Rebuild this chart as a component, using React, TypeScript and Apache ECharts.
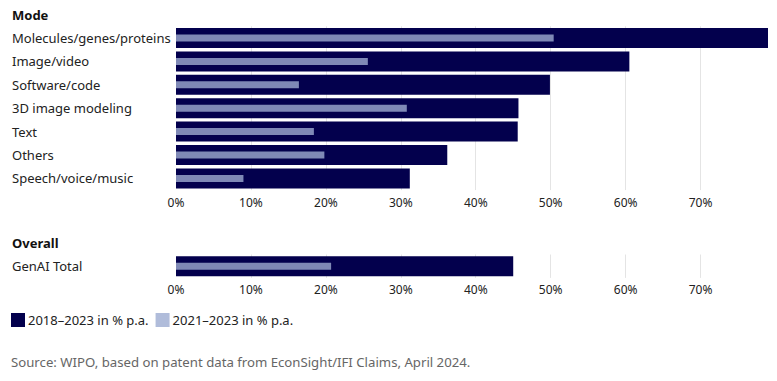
import React, { useEffect, useRef } from "react";
import * as echarts from "echarts";

const modeCategories = [
  "Molecules/genes/proteins",
  "Image/video",
  "Software/code",
  "3D image modeling",
  "Text",
  "Others",
  "Speech/voice/music",
];
const mode2018_2023 = [79, 60.5, 49.9, 45.7, 45.6, 36.2, 31.2];
const mode2021_2023 = [50.4, 25.6, 16.4, 30.8, 18.4, 19.8, 9.0];

const overallCategories = ["GenAI Total"];
const overall2018_2023 = [45.0];
const overall2021_2023 = [20.7];

const gridTicks = [10, 20, 30, 40, 50, 60, 70];

const seriesNameA = "2018–2023 in % p.a.";
const seriesNameB = "2021–2023 in % p.a.";

const DARK = "#03004d";
const LIGHT_BAR = "#7f89b6";
const LIGHT_LEGEND = "#b0bcda";
const FONT = "Noto Sans";

export default function App() {
  const ref = useRef<HTMLDivElement>(null);
  useEffect(() => {
    if (!ref.current) return;
    const chart = echarts.init(ref.current, undefined, { renderer: "svg" });

    const xAxisCommon = {
      type: "value",
      min: 0,
      max: 79,
      interval: 10,
      axisLine: { show: false },
      axisTick: { show: false },
      splitLine: { show: false },
      axisLabel: {
        color: "#222",
        fontFamily: FONT,
        fontSize: 12,
        margin: 6,
        formatter: (v: number) => (v % 10 === 0 ? v + "%" : ""),
      },
    };

    const gridMarkLine = {
      silent: true,
      symbol: "none",
      z: 1,
      label: { show: false },
      lineStyle: { color: "#e4e4e4", width: 1, type: "solid" },
      data: gridTicks.map((t) => ({ xAxis: t })),
    };

    const catAxis = (data: string[], gridIndex: number, show: boolean) => ({
      type: "category",
      gridIndex,
      data,
      inverse: true,
      show,
      axisLine: { show: false },
      axisTick: { show: false },
      axisLabel: {
        show,
        align: "left",
        margin: 164,
        color: "#222",
        fontFamily: FONT,
        fontSize: 13,
      },
    });

    const option = {
      animation: false,
      textStyle: { fontFamily: FONT },
      grid: [
        { left: 176, right: 9, top: 26.3, height: 163.8 },
        { left: 176, right: 9, top: 254.5, height: 23.4 },
      ],
      xAxis: [
        { ...xAxisCommon, gridIndex: 0 },
        { ...xAxisCommon, gridIndex: 1 },
      ],
      yAxis: [
        catAxis(modeCategories, 0, true),
        catAxis(modeCategories, 0, false),
        catAxis(overallCategories, 1, true),
        catAxis(overallCategories, 1, false),
      ],
      legend: {
        left: 11,
        top: 313,
        padding: 0,
        itemWidth: 14,
        itemHeight: 14,
        itemGap: 7,
        icon: "rect",
        textStyle: { color: "#222", fontFamily: FONT, fontSize: 13, padding: [0, 0, 0, -2] },
        data: [
          { name: seriesNameA, itemStyle: { color: DARK } },
          { name: seriesNameB, itemStyle: { color: LIGHT_LEGEND } },
        ],
      },
      graphic: [
        {
          type: "text",
          left: 12,
          top: 8,
          style: { text: "Mode", font: `bold 13px "${FONT}"`, fill: "#111" },
        },
        {
          type: "text",
          left: 12,
          top: 236,
          style: { text: "Overall", font: `bold 13px "${FONT}"`, fill: "#111" },
        },
        {
          type: "text",
          left: 11,
          top: 355,
          style: {
            text: "Source: WIPO, based on patent data from EconSight/IFI Claims, April 2024.",
            font: `13.2px "${FONT}"`,
            fill: "#666",
          },
        },
      ],
      series: [
        {
          name: seriesNameA,
          type: "bar",
          xAxisIndex: 0,
          yAxisIndex: 0,
          data: mode2018_2023,
          barWidth: 20,
          itemStyle: { color: DARK },
          z: 2,
          markLine: gridMarkLine,
        },
        {
          name: seriesNameB,
          type: "bar",
          xAxisIndex: 0,
          yAxisIndex: 1,
          data: mode2021_2023,
          barWidth: 7,
          itemStyle: { color: LIGHT_BAR },
          z: 3,
        },
        {
          name: seriesNameA,
          type: "bar",
          xAxisIndex: 1,
          yAxisIndex: 2,
          data: overall2018_2023,
          barWidth: 20,
          itemStyle: { color: DARK },
          z: 2,
          markLine: gridMarkLine,
        },
        {
          name: seriesNameB,
          type: "bar",
          xAxisIndex: 1,
          yAxisIndex: 3,
          data: overall2021_2023,
          barWidth: 7,
          itemStyle: { color: LIGHT_BAR },
          z: 3,
        },
      ],
    };
    chart.setOption(option as any);
    return () => chart.dispose();
  }, []);

  return <div ref={ref} style={{ position: "absolute", left: 0, top: 0, width: 777, height: 381, background: "#fff" }} />;
}
